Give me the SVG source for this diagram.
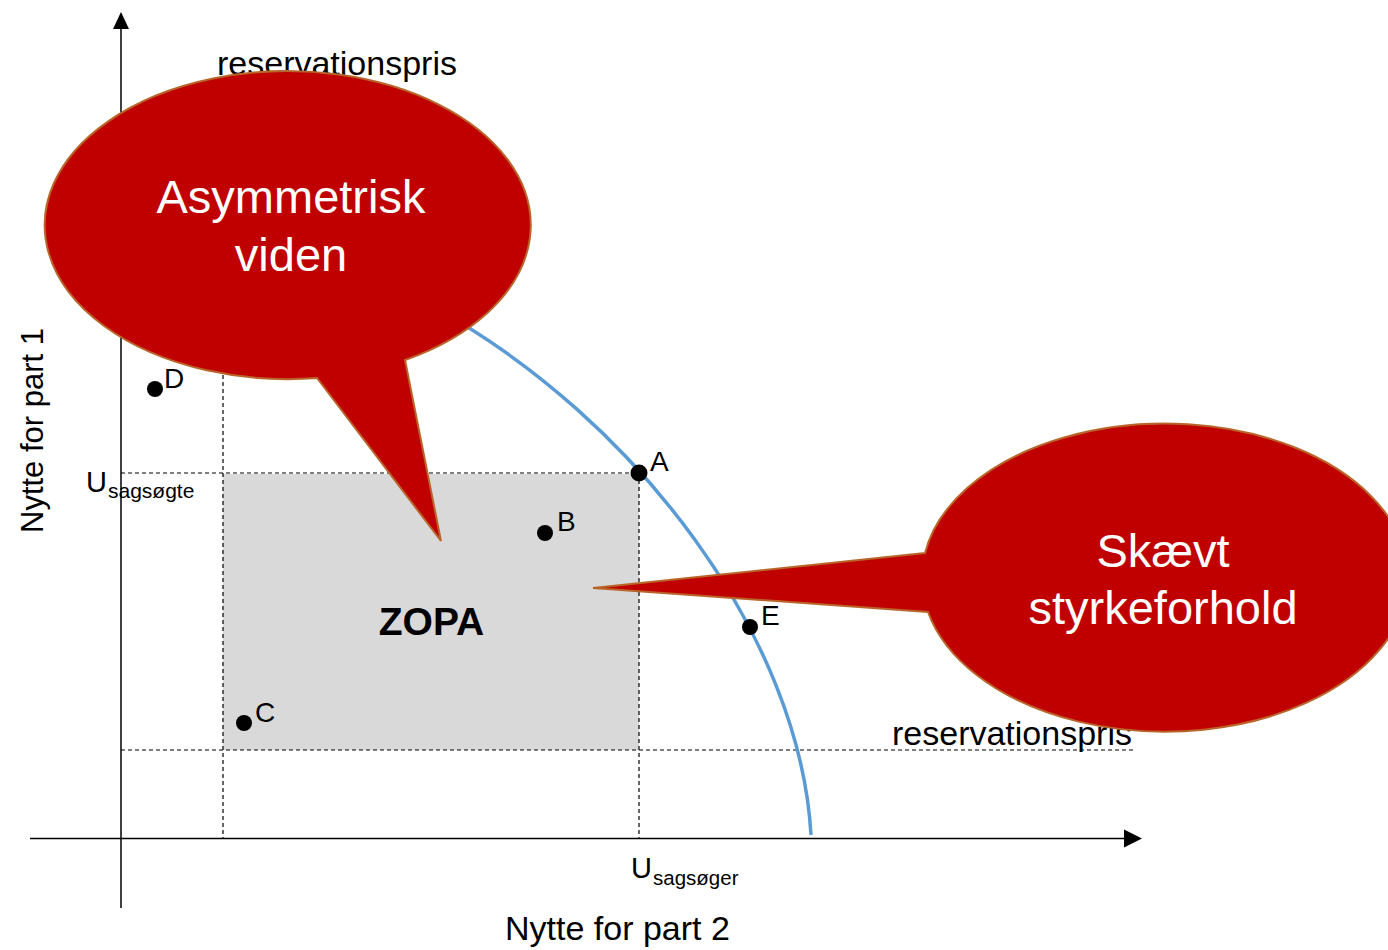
<svg xmlns="http://www.w3.org/2000/svg" width="1388" height="950" viewBox="0 0 1388 950">
<style>
.t{font-family:"Liberation Sans",Arial,sans-serif;fill:#000}
.dash{stroke:#000;stroke-width:1.2;stroke-dasharray:4 3;fill:none}
.ax{stroke:#000;stroke-width:1.5;fill:none}
.dot{fill:#000}
.bub{fill:#c00000;stroke:#b9652a;stroke-width:2}
.bt{font-family:"Liberation Sans",Arial,sans-serif;font-size:47px;fill:#fff;text-anchor:middle}
</style>
<rect width="1388" height="950" fill="#fff"/>
<g id="zopa">
<rect x="223" y="474" width="416" height="276" fill="#d9d9d9"/>
<text class="t" x="431.5" y="635" font-size="39" font-weight="bold" text-anchor="middle">ZOPA</text>
</g>
<g id="connectors">
<line class="dash" x1="223" y1="200" x2="223" y2="838"/>
<line class="dash" x1="639" y1="473" x2="639" y2="838"/>
<line class="dash" x1="121" y1="473" x2="639" y2="473"/>
<line class="dash" x1="121" y1="750" x2="1135" y2="750"/>
<line class="ax" x1="121" y1="26" x2="121" y2="908"/>
<polygon points="121,12 113,29 129,29" fill="#000"/>
<line class="ax" x1="30" y1="838.5" x2="1126" y2="838.5"/>
<polygon points="1142,838.5 1124,829.5 1124,847.5" fill="#000"/>
<path d="M430,305 C640,420 800,640 811,835" fill="none" stroke="#5b9bd5" stroke-width="3.5"/>
</g>
<g id="labels">
<text class="t" x="217" y="75" font-size="34">reservationspris</text>
<text class="t" x="892" y="745" font-size="34">reservationspris</text>
<text class="t" x="505" y="940" font-size="34">Nytte for part 2</text>
<text class="t" transform="translate(43,533) rotate(-90)" font-size="31">Nytte for part 1</text>
<text class="t" x="86" y="492" font-size="29">U</text>
<text class="t" x="108" y="498" font-size="21">sagsøgte</text>
<text class="t" x="631" y="878" font-size="29">U</text>
<text class="t" x="653" y="885" font-size="20.5">sagsøger</text>
</g>
<g id="pointD"><circle class="dot" cx="155" cy="389" r="8"/><text class="t" x="164" y="388" font-size="28">D</text></g>
<g id="pointA"><circle class="dot" cx="639" cy="473" r="8.5"/><text class="t" x="650" y="471" font-size="28">A</text></g>
<g id="pointB"><circle class="dot" cx="545" cy="533" r="8"/><text class="t" x="557" y="531" font-size="28">B</text></g>
<g id="pointC"><circle class="dot" cx="244" cy="723" r="8"/><text class="t" x="255" y="722" font-size="28">C</text></g>
<g id="pointE"><circle class="dot" cx="750" cy="627" r="8"/><text class="t" x="761" y="625" font-size="28">E</text></g>
<g id="bubble1">
<path class="bub" d="M317,378 L441,541 L405,360 A243,154 0 1,0 317,378 Z"/>
<text class="bt" x="291" y="213">Asymmetrisk</text>
<text class="bt" x="291" y="271">viden</text>
</g>
<g id="bubble2">
<path class="bub" d="M925,553 L593,588 L928,612 A243,154 0 1,0 925,553 Z"/>
<text class="bt" x="1163" y="567">Skævt</text>
<text class="bt" x="1163" y="624">styrkeforhold</text>
</g>
</svg>
